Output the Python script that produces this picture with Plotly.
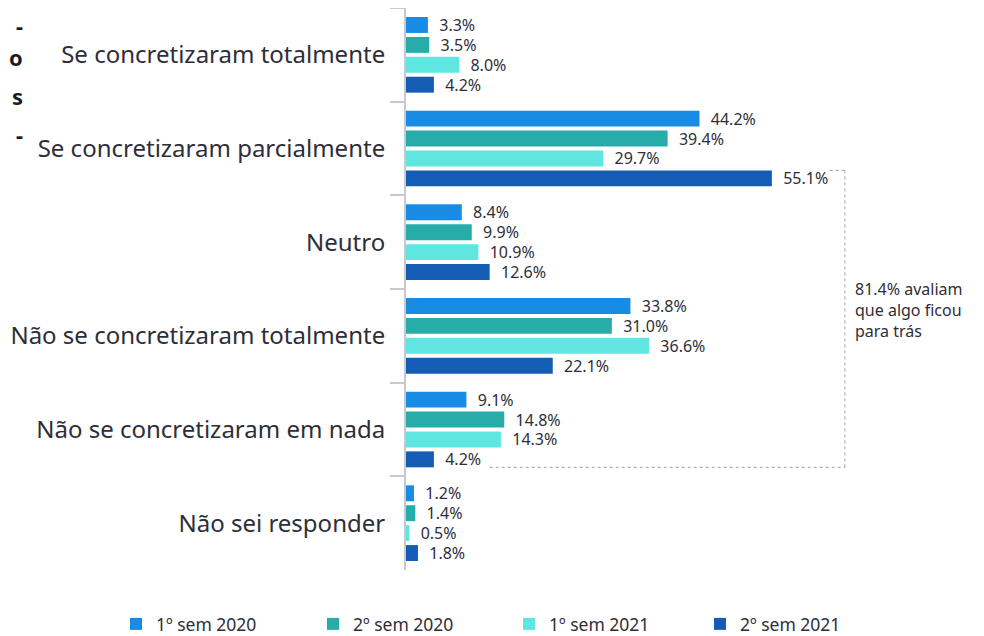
import plotly.graph_objects as go

categories = [
    "Se concretizaram totalmente",
    "Se concretizaram parcialmente",
    "Neutro",
    "Não se concretizaram totalmente",
    "Não se concretizaram em nada",
    "Não sei responder",
]
series_names = ["1º sem 2020", "2º sem 2020", "1º sem 2021", "2º sem 2021"]
sem1_2020 = [3.3, 44.2, 8.4, 33.8, 9.1, 1.2]
sem2_2020 = [3.5, 39.4, 9.9, 31.0, 14.8, 1.4]
sem1_2021 = [8.0, 29.7, 10.9, 36.6, 14.3, 0.5]
sem2_2021 = [4.2, 55.1, 12.6, 22.1, 4.2, 1.8]
series_values = [sem1_2020, sem2_2020, sem1_2021, sem2_2021]
colors = ["#188CE5", "#27ACAA", "#60E6E1", "#155CB4"]
bracket_text = "81.4% avaliam<br>que algo ficou<br>para trás"
title_fragments = ["-", "o", "s", "-"]

W, H = 984, 636
OFF = 8  # page body margin
L, T, B = 406 - OFF, 8 - OFF, H - (570 - OFF)
PX_PER_UNIT = 6.64
legend_ids = ["legend", "legend2", "legend3", "legend4"]
legend_x_px = [116 - OFF, 313 - OFF, 509 - OFF, 700 - OFF]

fig = go.Figure()
for name, vals, col, lid in zip(series_names, series_values, colors, legend_ids):
    fig.add_trace(go.Bar(
        y=categories, x=vals, name=name, orientation="h",
        marker=dict(color=col, line=dict(width=0)),
        text=[f"{v:.1f}%" for v in vals],
        texttemplate="  %{text}",
        textposition="outside", cliponaxis=False, constraintext="none",
        textfont=dict(family="Noto Sans", size=16, color="#2e2e38"),
        legend=lid,
    ))

# bracket around "something left behind" categories
nb = len(series_names)
bargap, groupgap = 0.15, 0.2
slot = (1 - bargap) / nb
bw = slot * (1 - groupgap)
k = nb - 1
off = -(1 - bargap) / 2 + slot * (k + 0.5)
i_top = categories.index("Se concretizaram parcialmente")
i_bot = categories.index("Não se concretizaram em nada")
y_top = i_top + off - bw / 2
y_bot = i_bot + off + bw / 2
x_right = max(sem2_2021) + 11.0
x_top_start = sem2_2021[i_top] + 8.7
x_bot_start = sem2_2021[i_bot] + 8.4
line_style = dict(color="#a0a0a8", width=1, dash="dot")
fig.add_shape(type="line", xref="x", yref="y", x0=x_top_start, x1=x_right, y0=y_top, y1=y_top, line=line_style)
fig.add_shape(type="line", xref="x", yref="y", x0=x_right, x1=x_right, y0=y_top, y1=y_bot, line=line_style)
fig.add_shape(type="line", xref="x", yref="y", x0=x_bot_start, x1=x_right, y0=y_bot, y1=y_bot, line=line_style)
fig.add_annotation(xref="x", yref="y", x=x_right + 1.2, y=3.0 - 0.28, text=bracket_text,
                   showarrow=False, xanchor="left", yanchor="middle", align="left",
                   font=dict(family="Noto Sans", size=16, color="#2e2e38"))

# cut-off title fragments at left edge
plot_w = W - L
plot_h = H - T - B
frag_y_px = [17 - OFF, 57 - OFF, 96 - OFF, 134 - OFF]
for j, (frag, py) in enumerate(zip(title_fragments, frag_y_px)):
    if j == 0:
        yy, ya = 1.0, "top"
    else:
        yy, ya = (H - B - py) / plot_h, "middle"
    fig.add_annotation(xref="paper", yref="paper", x=(17 - L) / plot_w, y=yy,
                       text=f"<b>{frag}</b>", showarrow=False, xanchor="right", yanchor=ya,
                       font=dict(family="Noto Sans", size=22, color="#1a1a24"))

legend_common = dict(orientation="h", xref="container", yref="container", y=(H - (624 - OFF)) / H,
                     yanchor="middle", xanchor="left", itemclick=False, itemdoubleclick=False,
                     font=dict(family="Noto Sans", size=17.5, color="#2e2e38"),
                     bgcolor="rgba(0,0,0,0)")
legends = {}
for lid, lx in zip(legend_ids, legend_x_px):
    legends[lid] = dict(legend_common, x=lx / W)

fig.update_layout(
    width=W, height=H,
    margin=dict(l=L, r=0, t=T, b=B, autoexpand=False),
    barmode="group", bargap=bargap, bargroupgap=groupgap,
    plot_bgcolor="white", paper_bgcolor="white",
    font=dict(family="Noto Sans", color="#2e2e38"),
    showlegend=True,
    xaxis=dict(range=[0, plot_w / PX_PER_UNIT], visible=False, fixedrange=True, automargin=False),
    yaxis=dict(autorange="reversed", showline=True, linecolor="#c8c8d0", linewidth=2,
               ticks="outside", tickson="boundaries", ticklen=14, tickcolor="#c8c8d0", tickwidth=2,
               tickfont=dict(family="Noto Sans", size=24, color="#2e2e38"),
               showgrid=False, zeroline=False, ticklabelstandoff=14, automargin=False),
    **legends,
)

fig.write_html("out.html")
